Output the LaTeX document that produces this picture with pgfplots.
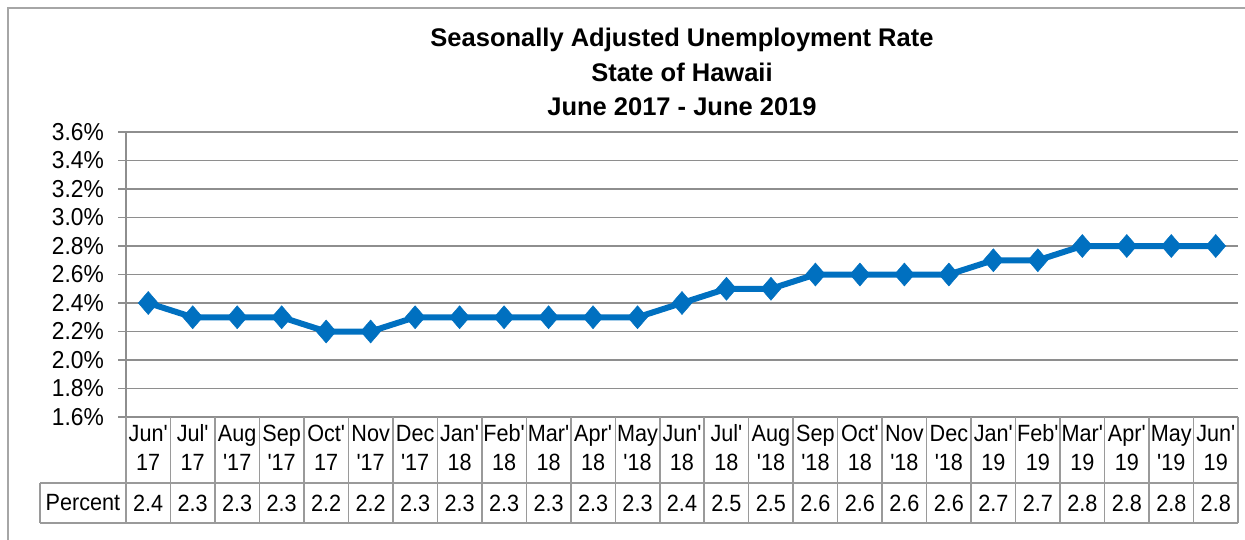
\documentclass[border=0pt]{standalone}
\usepackage{fontspec}
\usepackage{pgfplots}
\usepackage{pgfplotstable}
\pgfplotsset{compat=1.18}
\newfontfamily\arial{Liberation Sans}
\newfontfamily\arialt{Liberation Sans}[FakeStretch=0.93]
\newfontfamily\arialn{Liberation Sans}[FakeStretch=0.92]
\definecolor{hiblue}{HTML}{0070C0}
\definecolor{gridgray}{HTML}{8E8E8E}
\definecolor{tabgray}{HTML}{9A9A9A}
\definecolor{framegray}{HTML}{A6A6A6}
\newcommand{\tickfont}{\arialt\fontsize{24.5}{28}\selectfont}
\newcommand{\tabfont}{\arialn\fontsize{23.5}{29}\selectfont}
\pgfplotstableread{
x v
0 2.4
1 2.3
2 2.3
3 2.3
4 2.2
5 2.2
6 2.3
7 2.3
8 2.3
9 2.3
10 2.3
11 2.3
12 2.4
13 2.5
14 2.5
15 2.6
16 2.6
17 2.6
18 2.6
19 2.7
20 2.7
21 2.8
22 2.8
23 2.8
24 2.8
}\data
\begin{document}
\begin{tikzpicture}
\useasboundingbox (0pt,0pt) rectangle (1245pt,-540pt);
\begin{axis}[
  at={(126pt,-417pt)}, anchor=south west,
  scale only axis, width=1112pt, height=285pt,
  xmin=-0.5, xmax=24.5, ymin=1.6, ymax=3.6,
  clip=false,
  axis x line*=bottom, axis y line*=left,
  axis line style={color=gridgray, line width=1.5pt},
  ymajorgrids, grid style={color=gridgray, line width=1.5pt},
  ytick={1.6,1.8,2.0,2.2,2.4,2.6,2.8,3.0,3.2,3.4,3.6},
  yticklabels={1.6\%,1.8\%,2.0\%,2.2\%,2.4\%,2.6\%,2.8\%,3.0\%,3.2\%,3.4\%,3.6\%},
  ytick align=outside, major tick length=8pt,
  ytick style={color=gridgray, line width=1.5pt},
  yticklabel style={font=\tickfont, anchor=east, inner sep=0pt, xshift=-14pt},
  xtick=data,
  xtick style={draw=none},
  xticklabels={{\strut Jun'\\17\strut},{\strut Jul'\\17\strut},{\strut Aug\\'17\strut},{\strut Sep\\'17\strut},{\strut Oct'\\17\strut},{\strut Nov\\'17\strut},{\strut Dec\\'17\strut},{\strut Jan'\\18\strut},{\strut Feb'\\18\strut},{\strut Mar'\\18\strut},{\strut Apr'\\18\strut},{\strut May\\'18\strut},{\strut Jun'\\18\strut},{\strut Jul'\\18\strut},{\strut Aug\\'18\strut},{\strut Sep\\'18\strut},{\strut Oct'\\18\strut},{\strut Nov\\'18\strut},{\strut Dec\\'18\strut},{\strut Jan'\\19\strut},{\strut Feb'\\19\strut},{\strut Mar'\\19\strut},{\strut Apr'\\19\strut},{\strut May\\'19\strut},{\strut Jun'\\19\strut}},
  xticklabel style={font=\tabfont, align=center, anchor=center, inner sep=0pt, yshift=-33pt},
]
\addplot[color=hiblue, line width=6pt, mark=diamond*, mark size=11.5pt,
  mark options={solid, line width=0.5pt, xscale=1.15, fill=hiblue}]
  table[x=x, y=v]{\data};
\addplot[draw=none, mark=none, point meta=explicit,
  nodes near coords={\pgfmathprintnumber[fixed,fixed zerofill,precision=1,assume math mode=true]{\pgfplotspointmeta}},
  nodes near coords style={font=\tabfont, anchor=center, inner sep=0pt, yshift=-86pt, text=black}]
  table[x=x, y expr=1.6, meta=v]{\data};
\end{axis}
% data table grid
\foreach \k in {0,...,25} \draw[tabgray, line width=1.5pt] (126pt+\k*44.48pt,-417pt) -- ++(0pt,-106pt);
\draw[tabgray, line width=1.5pt] (40pt,-483pt) -- (1238pt,-483pt);
\draw[tabgray, line width=1.5pt] (40pt,-523pt) -- (1238pt,-523pt);
\draw[tabgray, line width=1.5pt] (40pt,-483pt) -- (40pt,-523pt);
\node[font=\tabfont, anchor=center, inner sep=0pt] at (83pt,-503pt) {Percent};
% title
\node[font=\arial\bfseries\fontsize{25.5}{34.5}\selectfont, align=center, anchor=center] at (682pt,-72pt)
  {Seasonally Adjusted Unemployment Rate\\State of Hawaii\\June 2017 - June 2019};
% frame
\draw[framegray, line width=1.5pt] (1245pt,-8pt) -- (8pt,-8pt) -- (8pt,-540pt);
\end{tikzpicture}
\end{document}
